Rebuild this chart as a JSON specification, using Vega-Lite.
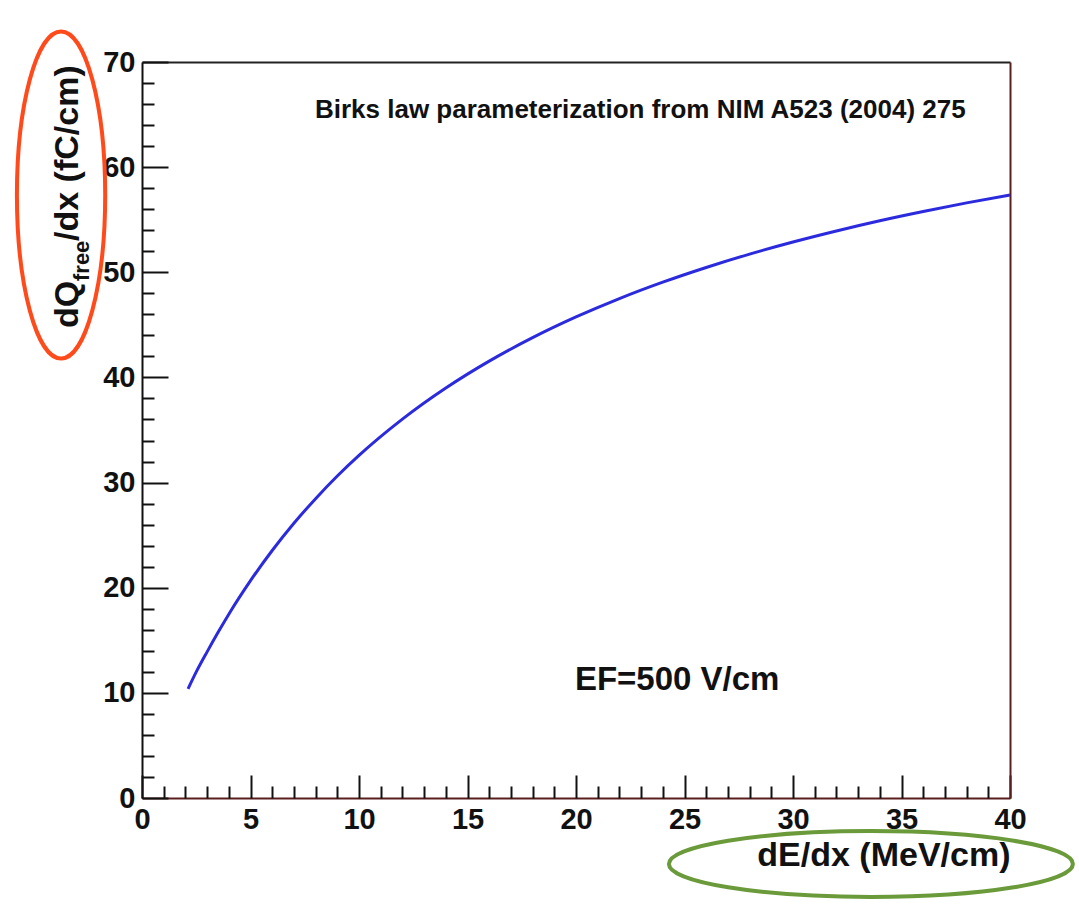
{
  "$schema": "https://vega.github.io/schema/vega-lite/v6.json",
  "width": 868,
  "height": 736,
  "autosize": {"type": "none"},
  "padding": {"left": 142, "top": 62, "right": 69, "bottom": 116},
  "background": "white",
  "config": {
    "view": {"stroke": null},
    "axis": {
      "labelFont": "Liberation Sans",
      "labelFontWeight": "bold",
      "labelFontSize": 29,
      "labelColor": "#111111",
      "titleFont": "Liberation Sans",
      "grid": false,
      "labelOverlap": false,
      "labelFlush": false
    },
    "text": {"font": "Liberation Sans", "fontWeight": "bold", "color": "#111111"}
  },
  "datasets": {
    "curve": [
      {"x": 2.12, "y": 10.37}, {"x": 2.5, "y": 11.99}, {"x": 3, "y": 13.9}, {"x": 3.5, "y": 15.73},
      {"x": 4, "y": 17.48}, {"x": 5, "y": 20.67}, {"x": 6, "y": 23.54}, {"x": 7, "y": 26.13},
      {"x": 8, "y": 28.47}, {"x": 9, "y": 30.62}, {"x": 10, "y": 32.58}, {"x": 12, "y": 36.03},
      {"x": 14, "y": 38.99}, {"x": 16, "y": 41.55}, {"x": 18, "y": 43.78}, {"x": 20, "y": 45.75},
      {"x": 22, "y": 47.5}, {"x": 24, "y": 49.06}, {"x": 26, "y": 50.46}, {"x": 28, "y": 51.73},
      {"x": 30, "y": 52.88}, {"x": 32, "y": 53.93}, {"x": 34, "y": 54.9}, {"x": 36, "y": 55.78},
      {"x": 38, "y": 56.6}, {"x": 40, "y": 57.35}
    ],
    "birks": [{"x": 7.97, "y": 64.7, "label": "Birks law parameterization from NIM A523 (2004) 275"}],
    "ef": [{"x": 19.95, "y": 10.27, "label": "EF=500 V/cm"}],
    "ytitleMain1": [{"x": -2.95, "y": 44.7, "label": "dQ"}],
    "ytitleSub": [{"x": -2.44, "y": 49.17, "label": "free"}],
    "ytitleMain2": [{"x": -2.95, "y": 52.98, "label": "/dx (fC/cm)"}],
    "redEllipse": [{"x": -3.73, "y": 57.35}],
    "greenEllipse": [{"x": 33.59, "y": -6.28}]
  },
  "layer": [
    {
      "data": {"name": "curve"},
      "mark": {"type": "line", "color": "#2b2bdd", "strokeWidth": 3, "interpolate": "monotone"},
      "encoding": {
        "x": {
          "field": "x", "type": "quantitative",
          "scale": {"domain": [0, 40], "nice": false, "zero": false},
          "axis": {
            "orient": "bottom",
            "values": [0, 5, 10, 15, 20, 25, 30, 35, 40],
            "ticks": false, "domain": true, "domainColor": "#5a1e1e", "domainWidth": 2,
            "labelPadding": 7, "labelBaseline": "top",
            "title": "dE/dx (MeV/cm)", "titleFontSize": 34, "titleFontWeight": "bold", "titleColor": "#111111",
            "titleAnchor": "end", "titleAlign": "right", "titleX": 868, "titleY": 67, "titleBaseline": "alphabetic"
          }
        },
        "y": {
          "field": "y", "type": "quantitative",
          "scale": {"domain": [0, 70], "nice": false, "zero": false},
          "axis": {
            "orient": "left",
            "values": [0, 10, 20, 30, 40, 50, 60, 70],
            "ticks": false, "domain": true, "domainColor": "#111111", "domainWidth": 2,
            "labelPadding": 7, "title": null
          }
        }
      }
    },
    {
      "data": {"name": "curve"},
      "mark": {"type": "line", "strokeOpacity": 0},
      "encoding": {
        "x": {
          "field": "x", "type": "quantitative",
          "scale": {"domain": [0, 40], "nice": false, "zero": false},
          "axis": {"orient": "bottom", "values": [0, 5, 10, 15, 20, 25, 30, 35, 40], "ticks": true, "tickSize": -23, "tickWidth": 2, "tickColor": "#111111", "labels": false, "domain": false, "title": null}
        },
        "y": {
          "field": "y", "type": "quantitative",
          "scale": {"domain": [0, 70], "nice": false, "zero": false},
          "axis": {"orient": "left", "values": [0, 10, 20, 30, 40, 50, 60, 70], "ticks": true, "tickSize": -26, "tickWidth": 2, "tickColor": "#111111", "labels": false, "domain": false, "title": null}
        }
      }
    },
    {
      "data": {"name": "curve"},
      "mark": {"type": "line", "strokeOpacity": 0},
      "encoding": {
        "x": {
          "field": "x", "type": "quantitative",
          "scale": {"domain": [0, 40], "nice": false, "zero": false},
          "axis": {"orient": "bottom", "values": [1, 2, 3, 4, 6, 7, 8, 9, 11, 12, 13, 14, 16, 17, 18, 19, 21, 22, 23, 24, 26, 27, 28, 29, 31, 32, 33, 34, 36, 37, 38, 39], "ticks": true, "tickSize": -12, "tickWidth": 2, "tickColor": "#111111", "labels": false, "domain": false, "title": null}
        },
        "y": {
          "field": "y", "type": "quantitative",
          "scale": {"domain": [0, 70], "nice": false, "zero": false},
          "axis": {"orient": "left", "values": [2, 4, 6, 8, 12, 14, 16, 18, 22, 24, 26, 28, 32, 34, 36, 38, 42, 44, 46, 48, 52, 54, 56, 58, 62, 64, 66, 68], "ticks": true, "tickSize": -12, "tickWidth": 2, "tickColor": "#111111", "labels": false, "domain": false, "title": null}
        }
      }
    },
    {
      "data": {"name": "curve"},
      "mark": {"type": "line", "strokeOpacity": 0},
      "encoding": {
        "x": {
          "field": "x", "type": "quantitative",
          "scale": {"domain": [0, 40], "nice": false, "zero": false},
          "axis": {"orient": "top", "ticks": false, "labels": false, "domain": true, "domainColor": "#222222", "domainWidth": 2, "title": null}
        },
        "y": {
          "field": "y", "type": "quantitative",
          "scale": {"domain": [0, 70], "nice": false, "zero": false},
          "axis": {"orient": "right", "ticks": false, "labels": false, "domain": true, "domainColor": "#5a1e1e", "domainWidth": 2, "title": null}
        }
      }
    },
    {
      "data": {"name": "birks"},
      "mark": {"type": "text", "fontSize": 26, "align": "left", "baseline": "alphabetic"},
      "encoding": {
        "x": {"field": "x", "type": "quantitative", "scale": {"domain": [0, 40], "nice": false, "zero": false}, "axis": null},
        "y": {"field": "y", "type": "quantitative", "scale": {"domain": [0, 70], "nice": false, "zero": false}, "axis": null},
        "text": {"field": "label"}
      }
    },
    {
      "data": {"name": "ef"},
      "mark": {"type": "text", "fontSize": 33, "align": "left", "baseline": "alphabetic"},
      "encoding": {
        "x": {"field": "x", "type": "quantitative", "scale": {"domain": [0, 40], "nice": false, "zero": false}, "axis": null},
        "y": {"field": "y", "type": "quantitative", "scale": {"domain": [0, 70], "nice": false, "zero": false}, "axis": null},
        "text": {"field": "label"}
      }
    },
    {
      "data": {"name": "ytitleMain1"},
      "mark": {"type": "text", "fontSize": 34, "align": "left", "baseline": "alphabetic", "angle": 270},
      "encoding": {
        "x": {"field": "x", "type": "quantitative", "scale": {"domain": [0, 40], "nice": false, "zero": false}, "axis": null},
        "y": {"field": "y", "type": "quantitative", "scale": {"domain": [0, 70], "nice": false, "zero": false}, "axis": null},
        "text": {"field": "label"}
      }
    },
    {
      "data": {"name": "ytitleSub"},
      "mark": {"type": "text", "fontSize": 22, "align": "left", "baseline": "alphabetic", "angle": 270},
      "encoding": {
        "x": {"field": "x", "type": "quantitative", "scale": {"domain": [0, 40], "nice": false, "zero": false}, "axis": null},
        "y": {"field": "y", "type": "quantitative", "scale": {"domain": [0, 70], "nice": false, "zero": false}, "axis": null},
        "text": {"field": "label"}
      }
    },
    {
      "data": {"name": "ytitleMain2"},
      "mark": {"type": "text", "fontSize": 34, "align": "left", "baseline": "alphabetic", "angle": 270},
      "encoding": {
        "x": {"field": "x", "type": "quantitative", "scale": {"domain": [0, 40], "nice": false, "zero": false}, "axis": null},
        "y": {"field": "y", "type": "quantitative", "scale": {"domain": [0, 70], "nice": false, "zero": false}, "axis": null},
        "text": {"field": "label"}
      }
    },
    {
      "data": {"name": "redEllipse"},
      "mark": {"type": "point", "filled": false, "stroke": "#ff4a1c", "strokeWidth": 4, "opacity": 1, "size": 106929, "shape": "M -0.27 0 A 0.27 1 0 1 0 0.27 0 A 0.27 1 0 1 0 -0.27 0 Z"},
      "encoding": {
        "x": {"field": "x", "type": "quantitative", "scale": {"domain": [0, 40], "nice": false, "zero": false}, "axis": null},
        "y": {"field": "y", "type": "quantitative", "scale": {"domain": [0, 70], "nice": false, "zero": false}, "axis": null}
      }
    },
    {
      "data": {"name": "greenEllipse"},
      "mark": {"type": "point", "filled": false, "stroke": "#6a9a3a", "strokeWidth": 4, "opacity": 1, "size": 163216, "shape": "M -1 0 A 1 0.163 0 1 0 1 0 A 1 0.163 0 1 0 -1 0 Z"},
      "encoding": {
        "x": {"field": "x", "type": "quantitative", "scale": {"domain": [0, 40], "nice": false, "zero": false}, "axis": null},
        "y": {"field": "y", "type": "quantitative", "scale": {"domain": [0, 70], "nice": false, "zero": false}, "axis": null}
      }
    }
  ],
  "resolve": {"axis": {"x": "independent", "y": "independent"}}
}
